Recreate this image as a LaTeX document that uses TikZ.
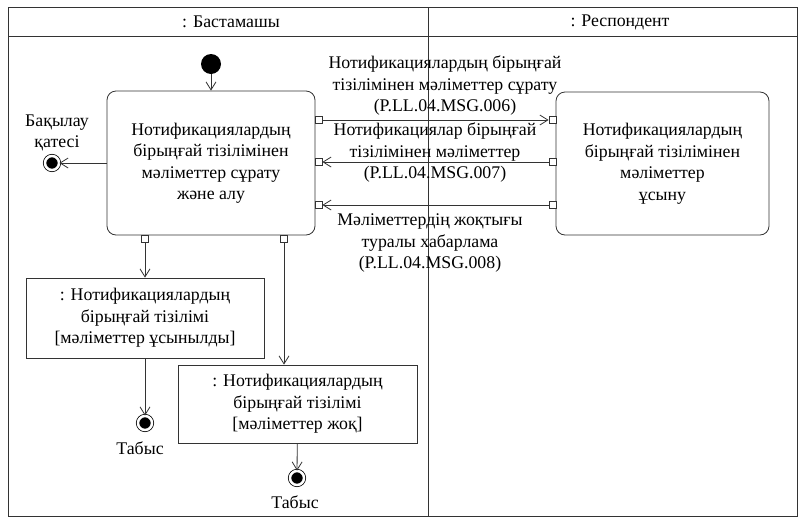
\documentclass[tikz,border=0pt]{standalone}
\usepackage{fontspec}
\setmainfont{Liberation Serif}
\usetikzlibrary{arrows.meta}

\tikzset{
  line/.style={draw=black!80, line width=0.8pt},
  flow/.style={line, -{Straight Barb[length=8pt,width=10pt]}},
  action/.style={line, rounded corners=9pt, align=center, inner sep=0pt},
  objbox/.style={line, align=center, inner sep=0pt},
  pin/.style={line, fill=white, minimum size=7pt, inner sep=0pt},
  start/.style={circle, fill=black, minimum size=20pt, inner sep=0pt},
  final/.style={circle, draw=black, fill=black, minimum size=14pt, inner sep=0pt,
    line width=0.8pt, double=white, double distance=2.5pt},
  txt/.style={align=center, inner sep=0pt}
}

\begin{document}
\begin{tikzpicture}[x=1pt,y=-1pt,font=\fontsize{17.8}{21.5}\selectfont]
\useasboundingbox (0,0) rectangle (798,520);

% swimlanes
\draw[line] (8,7) rectangle (797,516);
\draw[line] (8,36) -- (797,36);
\draw[line] (428,7) -- (428,516);
\node[txt] (lane1) at (231,22) {: Бастамашы};
\node[txt] (lane2) at (620,22) {: Респондент};

% actions
\node[action, minimum width=208pt, minimum height=144pt] (req) at (211,163)
  {Нотификациялардың\\бірыңғай тізілімінен\\мәліметтер сұрату\\және алу};
\node[action, minimum width=213pt, minimum height=143pt] (resp) at (662.5,163.5)
  {Нотификациялардың\\бірыңғай тізілімінен\\мәліметтер\\ұсыну};

% pins
\node[pin] (p1) at (318.5,120) {};
\node[pin] (p2) at (318.5,162) {};
\node[pin] (p3) at (318.5,205) {};
\node[pin] (q1) at (552.5,120) {};
\node[pin] (q2) at (552.5,162) {};
\node[pin] (q3) at (552.5,205) {};
\node[pin] (b1) at (145,238.5) {};
\node[pin] (b2) at (284,238.5) {};

% start and error end
\node[start] (init) at (211,64) {};
\draw[flow] (init) -- (req);
\node[final] (err) at (52,163) {};
\draw[flow] (req) -- (err);
\node[txt] (errlbl) at (57,133) {Бақылау\\қатесі};

% messages
\draw[flow] (p1) -- (q1);
\draw[flow] (q2) -- (p2);
\draw[flow] (q3) -- (p3);
\node[txt] (m1) at (445,86) {Нотификациялардың бірыңғай\\тізілімінен мәліметтер сұрату\\(P.LL.04.MSG.006)};
\node[txt] (m2) at (435,153) {Нотификациялар бірыңғай\\тізілімінен мәліметтер\\(P.LL.04.MSG.007)};
\node[txt] (m3) at (430,243) {Мәліметтердің жоқтығы\\туралы хабарлама\\(P.LL.04.MSG.008)};

% objects
\node[objbox, minimum width=238pt, minimum height=80pt] (obj1) at (145,318)
  {: Нотификациялардың\\бірыңғай тізілімі\\{[мәліметтер ұсынылды]}};
\node[objbox, minimum width=239pt, minimum height=78pt] (obj2) at (297.5,404)
  {: Нотификациялардың\\бірыңғай тізілімі\\{[мәліметтер жоқ]}};
\draw[flow] (b1) -- (obj1);
\draw[flow] (b2) -- (b2 |- obj2.north);

% success ends
\node[final] (ok1) at (145,423) {};
\draw[flow] (obj1) -- (ok1);
\node[txt] (ok1lbl) at (140,448) {Табыс};
\node[final] (ok2) at (297,478) {};
\draw[flow] (obj2) -- (ok2);
\node[txt] (ok2lbl) at (295,502) {Табыс};
\end{tikzpicture}
\end{document}
